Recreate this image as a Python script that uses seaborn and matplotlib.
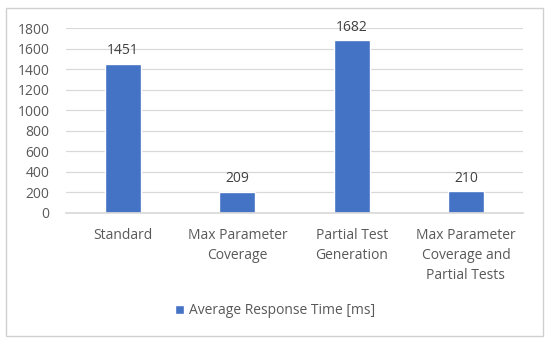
import matplotlib
matplotlib.use("Agg")
import matplotlib.pyplot as plt
import seaborn as sns
import pandas as pd
from matplotlib.patches import Rectangle

categories = ["Standard", "Max Parameter\nCoverage", "Partial Test\nGeneration",
              "Max Parameter\nCoverage and\nPartial Tests"]
values = [1451, 209, 1682, 210]
series_name = "Average Response Time [ms]"
yticks = [0, 200, 400, 600, 800, 1000, 1200, 1400, 1600, 1800]

sns.set_theme(style="white")
plt.rcParams["font.family"] = ["Open Sans", "DejaVu Sans"]

df = pd.DataFrame({"cat": categories, "val": values, "series": series_name})

fig = plt.figure(figsize=(5.5, 3.44), dpi=100)
fig.patch.set_facecolor("white")
fig.add_artist(Rectangle((6/550, 8/344), 537/550, 328/344, transform=fig.transFigure,
                         fill=False, edgecolor="#D0D0D0", linewidth=1.0))
ax = fig.add_axes([66/550, 1-213/344, 457/550, 185/344])

sns.barplot(data=df, x="cat", y="val", hue="series", palette=["#4472C4"],
            saturation=1, width=0.315, ax=ax, legend=True)

fs = 10
ax.set_ylim(0, 1800)
ax.set_yticks(yticks)
ax.set_yticklabels([str(t) for t in yticks], fontsize=fs, color="#595959")
ax.yaxis.grid(True, color="#D9D9D9", linewidth=0.9)
ax.set_axisbelow(True)
for s in ["top", "right", "left"]:
    ax.spines[s].set_visible(False)
ax.spines["bottom"].set_color("#D9D9D9")
ax.tick_params(axis="both", length=0)
ax.tick_params(axis="y", pad=12)
ax.set_xticks(range(len(categories)))
ax.set_xticklabels(categories, fontsize=fs, color="#595959", linespacing=1.45)
ax.tick_params(axis="x", pad=11)
ax.set_xlabel("")
ax.set_ylabel("")

for c in ax.containers:
    ax.bar_label(c, labels=[str(v) for v in values], padding=4, fontsize=fs, color="#404040")

leg = ax.legend(loc="center", bbox_to_anchor=(275/550, 1-311/344), bbox_transform=fig.transFigure,
                frameon=False, fontsize=fs, handlelength=0.65, handleheight=0.65, handletextpad=0.3)
for t in leg.get_texts():
    t.set_color("#595959")

fig.savefig("out.png", dpi=100)
